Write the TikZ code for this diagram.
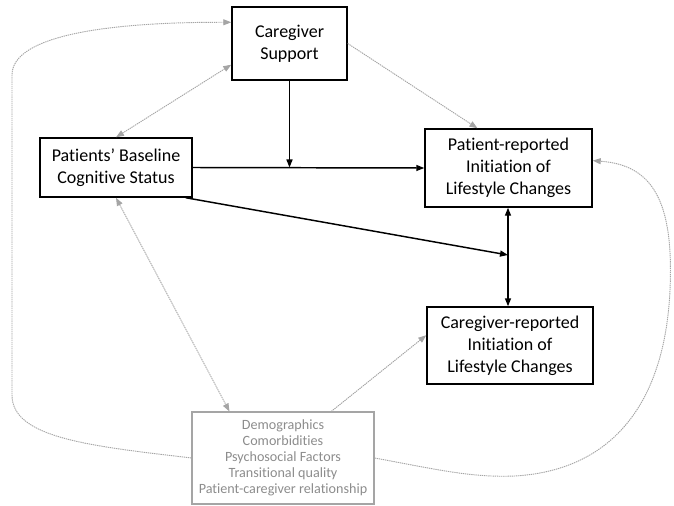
\documentclass[tikz,border=0pt]{standalone}
\usepackage{fontspec}
\setmainfont{Carlito}[Ligatures=NoCommon]
\usetikzlibrary{arrows.meta}

\definecolor{lightline}{RGB}{165,165,165}
\definecolor{lighttext}{RGB}{140,140,140}

\tikzset{every picture/.style={line width=0.75pt}}
\tikzset{
  tip/.style={-{Triangle[length=6pt,width=4.5pt]}},
  bothtips/.style={{Triangle[length=6pt,width=4.5pt]}-{Triangle[length=6pt,width=4.5pt]}},
  mainbox/.style={draw, line width=1.1pt, align=center, inner sep=0.75pt, font=\fontsize{13.5}{16.5}\selectfont},
  covarbox/.style={draw=lightline, line width=0.8pt, text=lighttext, align=center, inner sep=0.75pt, font=\fontsize{10.6}{12}\selectfont},
  mainline/.style={line width=1.1pt},
  greyline/.style={draw=lightline, line width=0.7pt, dash pattern={on 1pt off 0.6pt}},
}

\begin{document}
\begin{tikzpicture}[x=0.75pt,y=0.75pt,yscale=-1,xscale=1]
\path[use as bounding box] (0,0) rectangle (674,506);

% Text Node
\node (support) at (289.5,43.5) [mainbox, minimum width=86.25pt, minimum height=54.75pt] {Caregiver\\Support};
% Text Node
\node (baseline) at (116,167.5) [mainbox, minimum width=114pt, minimum height=44.25pt] {Patients’ Baseline\\Cognitive Status};
% Text Node
\node (patrep) at (508.5,168) [mainbox, minimum width=125.25pt, minimum height=58.5pt] {Patient-reported\\Initiation of\\Lifestyle Changes};
% Text Node
\node (carerep) at (510,345.5) [mainbox, minimum width=124.5pt, minimum height=57.75pt] {Caregiver-reported\\Initiation of\\Lifestyle Changes};
% Text Node
\node (covars) at (283,458) [covarbox, minimum width=136.5pt, minimum height=69pt] {Demographics\\Comorbidities\\Psychosocial Factors\\Transitional quality\\Patient-caregiver relationship};

\coordinate (meet) at (support.south |- baseline.east);
\coordinate (mid) at (508,255);
\coordinate (start) at ([xshift=-5.25pt]baseline.south east);

%Straight Lines
\draw [mainline, tip] (baseline.east) -- (patrep.west);
%Straight Lines
\draw [mainline, tip] (support.south) -- (meet);
%Straight Lines
\draw [mainline, tip] (start) -- (mid);
%Straight Lines
\draw [mainline, bothtips] ([xshift=-0.375pt]patrep.south) -- ([xshift=-1.5pt]carerep.north);

%Straight Lines
\draw [greyline, bothtips] (support.200) -- (baseline.north);
%Straight Lines
\draw [greyline, tip] (support.east) -- (patrep.128);
%Straight Lines
\draw [greyline, bothtips] (baseline.south) -- (covars.139);
%Straight Lines
\draw [greyline, tip] (covars.44) -- (carerep.173);

%Curve Lines
\draw [greyline, tip] (covars.west) .. controls (90,446) and (12,438) .. (12,395) -- (12,75) .. controls (12,35) and (110,22) .. (support.160);
%Curve Lines
\draw [greyline, tip] (covars.east) .. controls (430,468) and (470,478) .. (515,476) .. controls (615,470) and (665,400) .. (670,290) .. controls (674,200) and (652,165) .. (patrep.5);

\end{tikzpicture}
\end{document}
